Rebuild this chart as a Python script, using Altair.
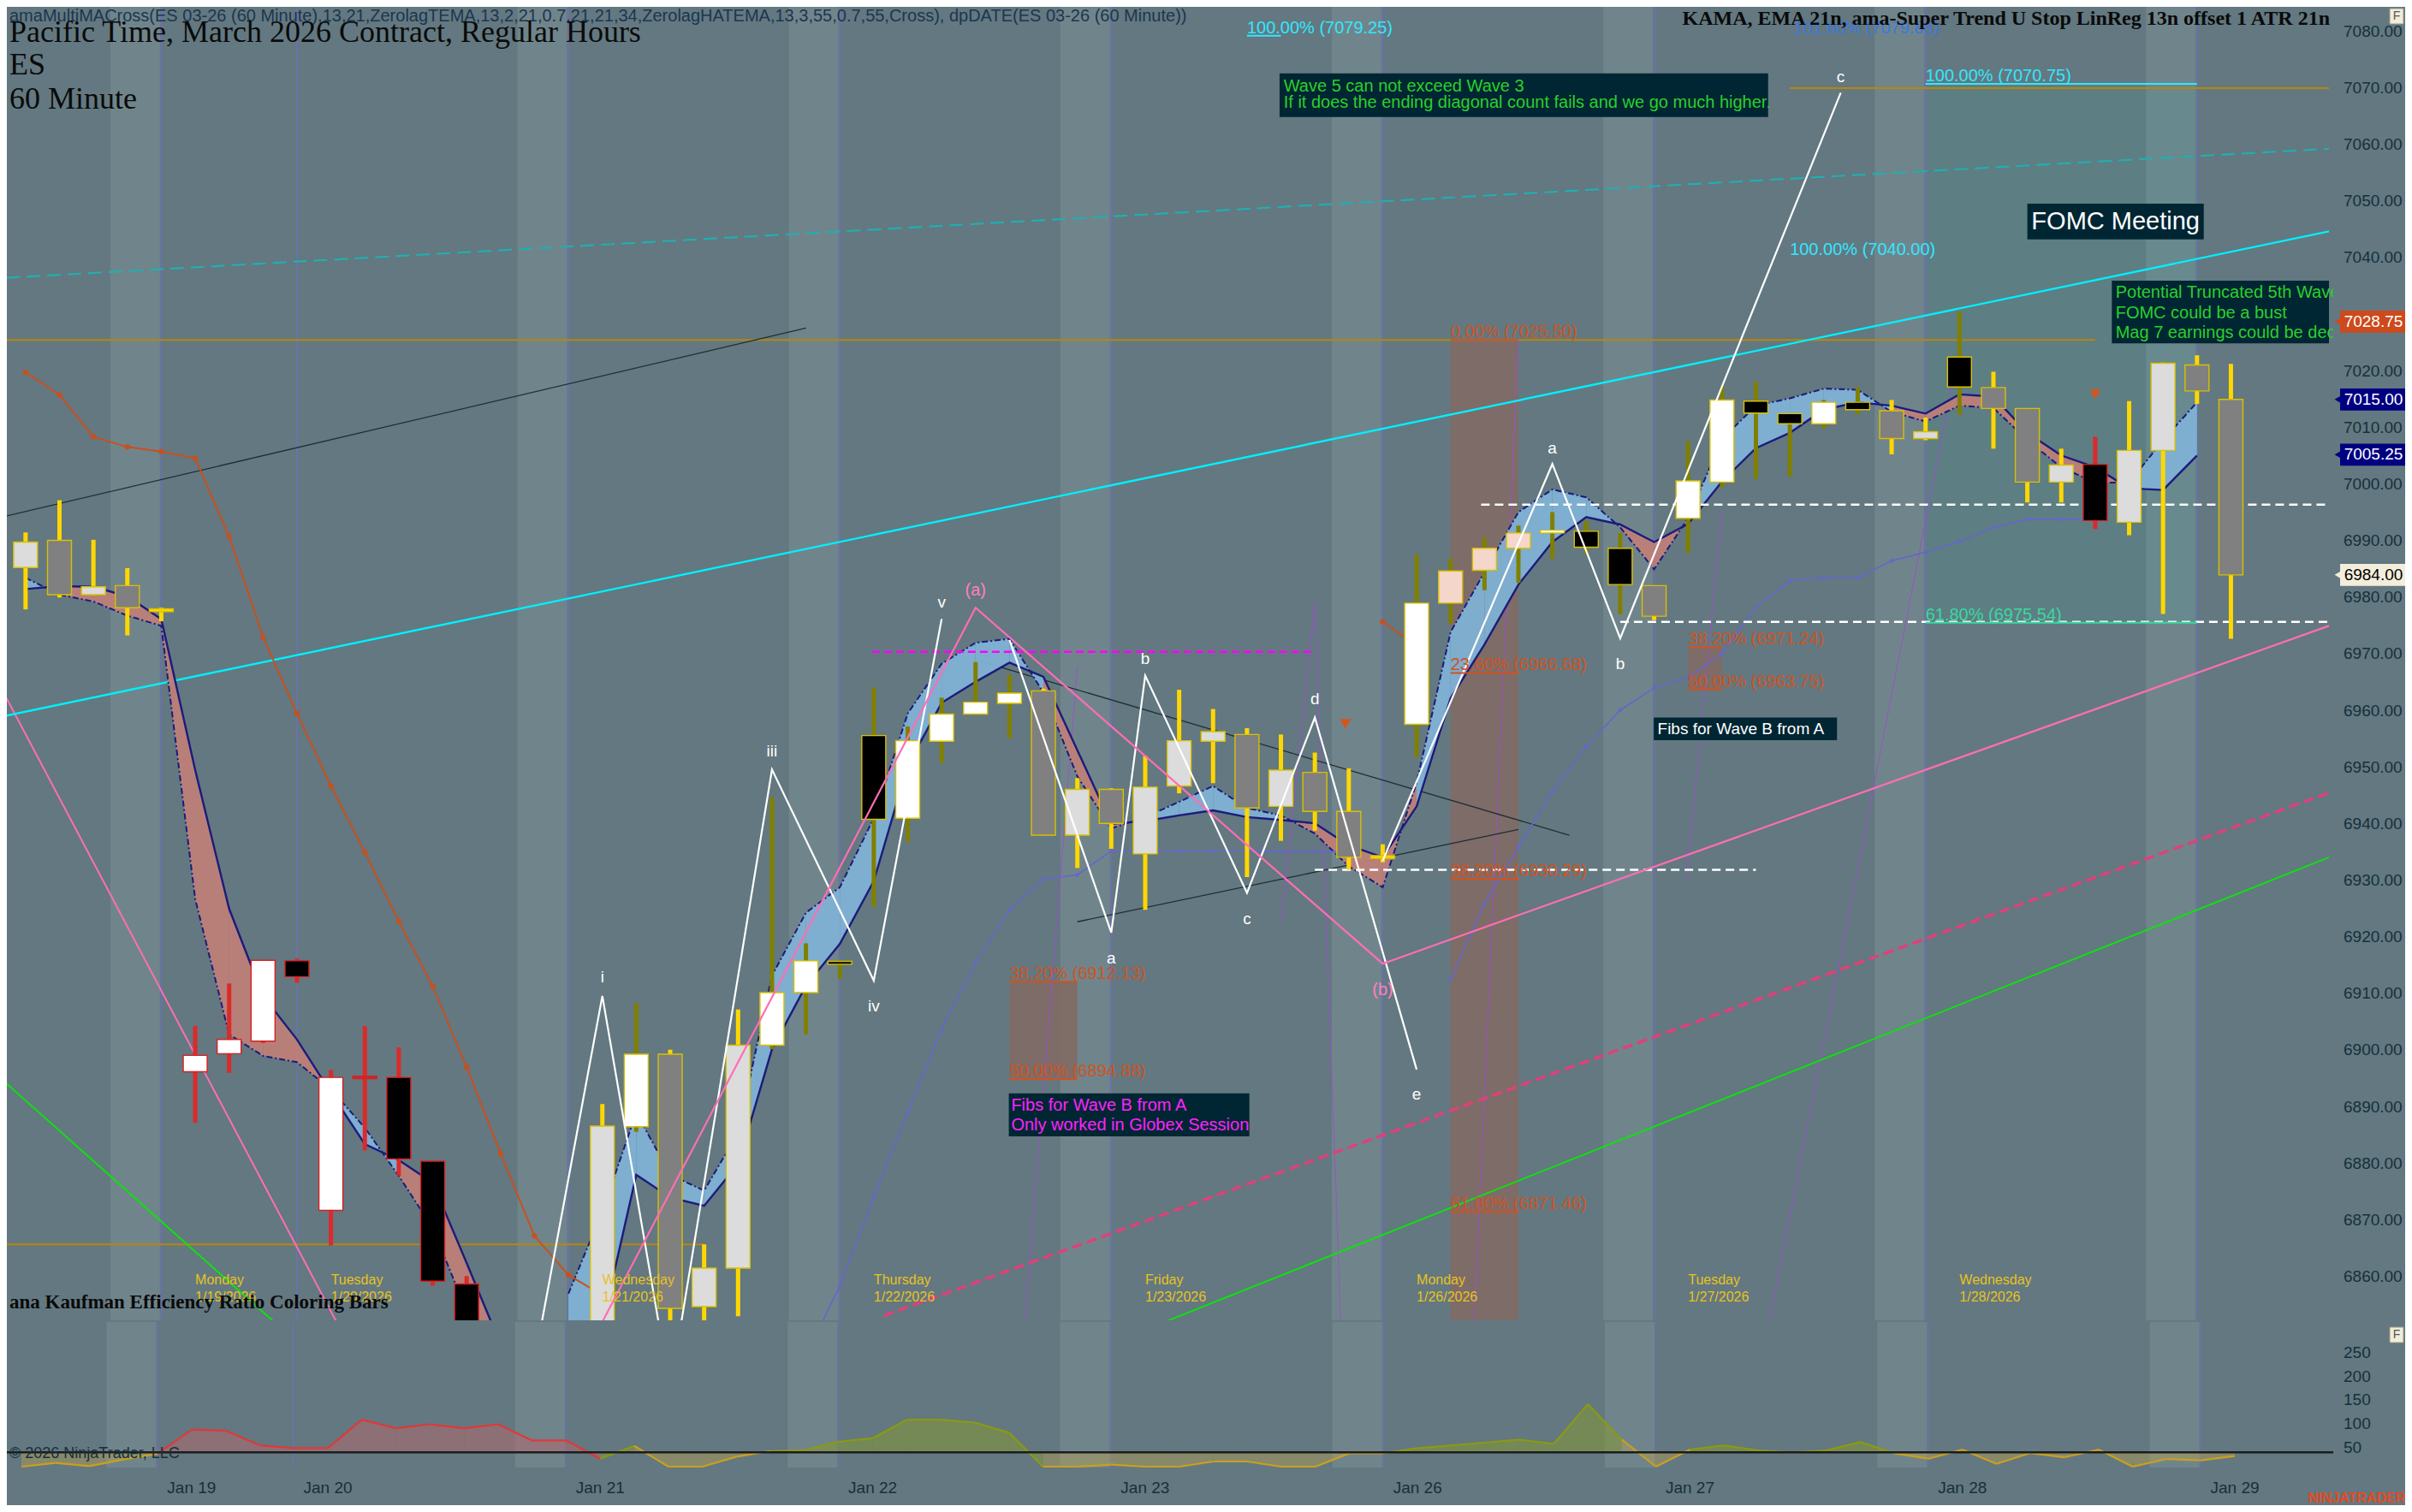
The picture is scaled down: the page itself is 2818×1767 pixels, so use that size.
import altair as alt
import pandas as pd

# ---------------------------------------------------------------
# Values  (x = 60-minute bar number, y = price)
# ---------------------------------------------------------------
bar_index = list(range(0, 14)) + list(range(17, 66))
bar_high = [6991.5, 6997.2, 6990.2, 6985.2, 6978.2, 6904.3, 6911.8, 6915.9, 6916.2, 6896.5, 6904.3, 6900.5, 6880.4, 6860.1,
            6890.5, 6908.3, 6900.1, 6865.7, 6907.2, 6944.7, 6918.9, 6915.9, 6964.1, 6957.2, 6962.3, 6968.6, 6966.4,
            6963.9, 6948.1, 6946.3, 6952.0, 6963.7, 6960.3, 6956.9, 6955.8, 6952.6, 6949.8, 6936.4,
            6987.6, 6986.9, 6990.6, 6992.7, 6995.1, 6993.5, 6991.4, 6982.1,
            7007.6, 7017.4, 7018.1, 7012.5, 7014.9, 7017.1, 7014.9, 7011.8,
            7030.5, 7019.9, 7013.4, 7006.3, 7008.4, 7014.7, 7021.5, 7022.8, 7021.3]
bar_low = [6977.9, 6980.0, 6980.4, 6973.3, 6975.8, 6887.2, 6896.0, 6901.3, 6911.9, 6865.5, 6882.3, 6877.8, 6858.4, 6840.0,
           6845.0, 6885.6, 6850.0, 6851.0, 6853.0, 6900.2, 6902.8, 6912.7, 6925.3, 6936.8, 6950.7, 6959.5, 6955.1,
           6938.0, 6932.2, 6935.6, 6924.8, 6945.4, 6947.2, 6930.6, 6937.0, 6938.8, 6931.9, 6933.2,
           6951.8, 6975.4, 6981.3, 6982.6, 6986.8, 6987.6, 6977.0, 6976.0,
           6987.9, 6999.5, 7001.0, 7001.4, 7009.9, 7012.4, 7005.3, 7007.8,
           7012.3, 7006.3, 6996.8, 6996.8, 6992.1, 6991.0, 6977.1, 7014.2, 6972.7]
body_top = [6989.8, 6990.1, 6981.9, 6982.1, 6978.0, 6899.1, 6901.9, 6915.9, 6915.8, 6895.2, 6895.4, 6895.2, 6880.4, 6858.7,
            6886.6, 6899.3, 6899.3, 6861.5, 6900.9, 6910.2, 6915.8, 6915.7, 6955.6, 6954.7, 6959.4, 6961.5, 6963.1,
            6963.5, 6946.1, 6946.1, 6946.5, 6954.7, 6956.3, 6955.8, 6949.5, 6949.1, 6942.2, 6934.4,
            6979.0, 6984.7, 6988.7, 6991.4, 6991.9, 6991.7, 6988.7, 6982.1,
            7000.6, 7014.9, 7014.7, 7012.5, 7014.5, 7014.5, 7013.0, 7009.3,
            7022.5, 7017.1, 7013.4, 7003.4, 7003.5, 7006.0, 7021.4, 7021.1, 7015.0]
body_bottom = [6985.3, 6980.5, 6980.5, 6978.2, 6977.5, 6896.2, 6899.4, 6901.6, 6913.0, 6871.7, 6895.0, 6880.8, 6859.2, 6842.0,
               6848.0, 6886.5, 6854.4, 6854.7, 6861.5, 6900.9, 6910.2, 6915.2, 6940.8, 6941.0, 6954.6, 6959.4, 6961.3,
               6938.0, 6938.0, 6940.1, 6934.7, 6946.7, 6954.6, 6942.8, 6943.1, 6942.2, 6934.1, 6933.9,
               6957.6, 6979.0, 6984.8, 6988.7, 6991.4, 6988.9, 6982.3, 6976.7,
               6994.0, 7000.4, 7012.6, 7010.7, 7010.7, 7013.2, 7008.1, 7008.1,
               7017.2, 7013.4, 7000.4, 7000.4, 6993.6, 6993.3, 7006.0, 7016.5, 6984.0]
# efficiency-ratio colouring classes of each bar
body_class = list("LGLGYWWWKWRKKK" + "LWGLLWWKKWWWWGLGLLLGLGGYWPPPWKKGWWKKWKGLKGGLKLLGG")
wick_class = list("yyyyy" + "r" * 9 + "yoyyy" + "o" * 8 + "y" * 11 + "o" * 7 + "y" + "o" * 6 + "yyo" + "yyy" + "r" + "yyyy")

# MA-cross ribbon (fast = dashed, slow = solid)
ribbon_bars = list(range(0, 15)) + list(range(16, 65))
rib_fast = [6983.5, 6980.5, 6979.3, 6976.8, 6975.0, 6926.7, 6902.8, 6899.0, 6897.9, 6893.1, 6886.3, 6877.8, 6868.6, 6853.9, 6840.0,
            6857.0, 6871.5, 6889.0, 6878.0, 6875.2, 6885.4, 6913.2, 6924.3, 6928.8, 6941.0, 6959.5, 6968.3, 6972.0, 6972.7,
            6963.2, 6948.4, 6939.2, 6941.2, 6943.9, 6946.7, 6942.8, 6941.5, 6938.3, 6932.5, 6928.8,
            6947.3, 6973.9, 6984.5, 6995.1, 6999.1, 6997.7, 6992.4, 6985.0, 6994.0, 7008.0, 7013.9, 7015.2,
            7016.9, 7016.7, 7012.8, 7011.1, 7013.9, 7013.5, 7007.8, 7003.0, 7000.3, 7000.3, 7007.8, 7014.5]
rib_slow = [6981.5, 6982.0, 6981.9, 6980.2, 6976.2, 6949.5, 6925.0, 6909.6, 6901.9, 6892.5, 6883.4, 6880.6, 6876.6, 6862.4, 6848.0,
            6840.0, 6851.6, 6878.0, 6874.0, 6872.5, 6879.9, 6900.2, 6911.4, 6918.8, 6929.9, 6950.3, 6961.4, 6965.1, 6968.5,
            6966.0, 6953.0, 6940.0, 6940.5, 6941.5, 6942.4, 6941.2, 6940.7, 6940.1, 6936.2, 6934.1,
            6943.1, 6962.2, 6971.7, 6982.3, 6989.8, 6994.2, 6992.9, 6989.8, 6993.0, 7000.5, 7006.4, 7009.1,
            7013.2, 7014.5, 7013.9, 7012.5, 7015.9, 7015.5, 7009.1, 7005.1, 7003.0, 6999.3, 6999.0, 7005.1]

# KAMA (orange dotted) and EMA 21 (blue dotted)
kama_bars = list(range(0, 18)) + [40, 41]
kama_vals = [7019.8, 7015.8, 7008.4, 7006.6, 7005.8, 7004.6, 6990.8, 6973.0, 6959.5, 6946.7, 6935.0, 6922.8,
             6911.3, 6897.0, 6881.8, 6867.2, 6860.3, 6856.7, 6975.7, 6971.5]
ema_bars = list(range(23, 40)) + list(range(42, 62))
ema_vals = [6846.0, 6858.4, 6874.1, 6889.1, 6903.7, 6915.5, 6924.8, 6930.2, 6931.0, 6935.2, 6935.2, 6935.2, 6935.2,
            6935.2, 6935.1, 6935.1, 6935.1,
            6912.5, 6925.9, 6935.9, 6945.7, 6953.7, 6960.1, 6964.0, 6965.9, 6970.1, 6978.3, 6983.0, 6983.5, 6983.5,
            6986.5, 6988.0, 6989.9, 6992.4, 6993.8, 6993.8, 6993.8]

# Kaufman efficiency ratio panel (one value per bar 0..65)
er_values = [9.8, 17.6, 11.0, 24.8, 37.0, 87.8, 86.0, 54.8, 48.8, 48.8, 108.8, 90.8, 99.2, 90.8, 99.2, 65.0, 65.0, 26.6, 53.6, 9.8,
             9.8, 30.8, 42.8, 44.6, 62.6, 69.8, 108.8, 108.8, 102.8, 81.8, 9.8, 9.8, 14.0, 9.8, 9.8, 20.6, 20.6, 9.8, 9.8, 38.0,
             38.0, 48.8, 54.8, 60.8, 66.8, 57.8, 141.8, 66.8, 9.8, 45.8, 54.8, 44.0, 39.8, 44.0, 62.0, 38.0, 26.6, 45.8, 15.8, 38.6,
             29.6, 45.8, 9.8, 26.0, 23.0, 32.0]
er_down_bars = list(range(4, 17))
er_base = 40

# sessions and dates
session_end_bars = [4, 16, 24, 32, 40, 48, 56, 64]
session_line_bars = [4, 8, 16, 24, 32, 40, 48, 56, 64]
day_ticks = [5, 9, 17, 25, 33, 41, 49, 57, 65]
day_tick_labels = ["Jan 19", "Jan 20", "Jan 21", "Jan 22", "Jan 23", "Jan 26", "Jan 27", "Jan 28", "Jan 29"]
day_names = ["Monday", "Tuesday", "Wednesday", "Thursday", "Friday", "Monday", "Tuesday", "Wednesday"]
day_dates = ["1/19/2026", "1/20/2026", "1/21/2026", "1/22/2026", "1/23/2026", "1/26/2026", "1/27/2026", "1/28/2026"]
price_ticks = list(range(6860, 7081, 10))
er_ticks = [50, 100, 150, 200, 250]

# drawn objects (bar number, price)
trend_cyan = [[(-0.577, 6959.1), (67.89, 7044.7)]]
trend_cyan_dash = [[(-0.577, 7036.5), (67.89, 7059.3)]]
trend_black = [[(-0.577, 6994.4), (23.0, 7027.6)], [(28.0, 6969.0), (45.5, 6938.0)], [(31.0, 6922.7), (44.0, 6939.0)]]
trend_pink = [[(-0.577, 6962.4), (9.2, 6851.6)]]
trend_green = [[(-0.577, 6894.2), (7.7, 6850.0)], [(33.7, 6852.3), (67.89, 6934.1)]]
trend_pink_dash = [[(25.3, 6853.1), (67.89, 6945.5)]]
level_orange = [[(-0.577, 7025.5), (61.0, 7025.5)], [(52.0, 7070.0), (67.89, 7070.0)], [(-0.577, 6865.7), (20.0, 6865.7)]]
purple_lines = [[(31.0, 6967.8), (29.45, 6852.3)], [(37.0, 6922.4), (38.0, 6979.2), (38.76, 6852.3)],
                [(44.0, 7025.8), (42.7, 6852.3)], [(50.0, 6995.5), (48.95, 6930.0)], [(57.0, 7024.3), (51.4, 6852.3)]]
white_dash = [[(42.9, 6996.4), (67.89, 6996.4)], [(47.0, 6975.7), (67.89, 6975.7)], [(38.0, 6931.9), (51.0, 6931.9)]]
magenta_dash = [[(24.95, 6970.4), (38.0, 6970.4)]]
wave_white = [[(15.0, 6845.0), (17.0, 6909.6), (19.0, 6840.0), (22.0, 6949.6), (25.0, 6912.3), (27.0, 6976.2)],
              [(29.0, 6972.5), (32.0, 6920.8), (33.0, 6966.2), (36.0, 6927.8), (38.0, 6958.8), (41.0, 6896.6)],
              [(40.0, 6933.5), (45.0, 7003.6), (47.0, 6972.8), (53.5, 7069.2)]]
wave_pink = [[(17.0, 6852.0), (28.0, 6978.2), (40.0, 6915.3), (67.89, 6975.0)]]

wave_labels_white = [("i", 17, 6912.9), ("iii", 22, 6952.8), ("iv", 25, 6907.7), ("v", 27, 6979.1),
                     ("a", 32, 6916.2), ("b", 33, 6969.2), ("c", 36, 6923.2), ("d", 38, 6962.0), ("e", 41, 6892.2),
                     ("a", 45, 7006.4), ("b", 47, 6968.2), ("c", 53.5, 7071.9)]
wave_labels_pink = [("(a)", 28, 6981.2), ("(b)", 40, 6910.7)]

fib_boxes = [(42, 44, 6852.28, 7025.5), (29, 31, 6894.88, 6912.13), (49, 50, 6963.75, 6971.24)]
fib_zone_teal = [(56, 64, 6975.54, 7070.75)]
fib_orange = [("0.00% (7025.50)", 42, 44, 7025.5), ("23.60% (6966.68)", 42, 44, 6966.68),
              ("38.20% (6930.29)", 42, 44, 6930.29), ("61.80% (6871.46)", 42, 44, 6871.46),
              ("38.20% (6912.13)", 29, 31, 6912.13), ("50.00% (6894.88)", 29, 31, 6894.88),
              ("38.20% (6971.24)", 49, 50, 6971.24), ("50.00% (6963.75)", 49, 50, 6963.75)]
fib_cyan = [("100.00% (7079.25)", 36, 37, 7079.25), ("100.00% (7070.75)", 56, 64, 7070.75), ("100.00% (7040.00)", 52, 52, 7040.0)]
fib_mint = [("61.80% (6975.54)", 56, 64, 6975.54)]
fib_blue = [("101.60% (7079.85)", 52.1, 52.1, 7079.2)]

signal_arrows = [(38.9, 6957.7), (61.0, 7015.9)]

note_boxes = [(36.96, 51.36, 7064.9, 7072.6), (59.0, 64.2, 7043.3, 7049.6),
              (61.49, 67.89, 7024.9, 7036.0), (28.98, 36.07, 6884.8, 6892.4),
              (47.99, 53.39, 6954.8, 6958.8)]
note_green = [("Wave 5 can not exceed Wave 3", 37.08, 7070.3),
              ("If it does the ending diagonal count fails and we go much higher.", 37.08, 7067.4)]
note_green_right = [("Potential Truncated 5th Wave", 61.6, 7033.8), ("FOMC could be a bust", 61.6, 7030.3),
                    ("Mag 7 earnings could be decisive", 61.6, 7026.8)]
note_magenta = [("Fibs for Wave B  from A", 29.05, 6890.2), ("Only worked in Globex Session", 29.05, 6886.8)]
note_white = [("Fibs for Wave B  from A", 48.1, 6956.8)]
note_fomc = [("FOMC Meeting", 61.6, 7046.4)]

flag_price = [7028.75, 7015.00, 7005.25, 6984.00]

# ---------------------------------------------------------------
# style / layout
# ---------------------------------------------------------------
W, H_TOP, H_BOT = 2724, 1542, 170
X_DOMAIN = [-0.577, 67.89]
P_DOMAIN = [6852.28, 7085.43]
E_DOMAIN = [8, 315]
BG, BAND = "#637880", "#70858b"
AXIS_TXT = "#15303d"
SANS, SERIF = "Liberation Sans", "Liberation Serif"
FIB = "#cf5322"

xs = alt.Scale(domain=X_DOMAIN, nice=False, zero=False)
ys = alt.Scale(domain=P_DOMAIN, nice=False, zero=False)
es = alt.Scale(domain=E_DOMAIN, nice=False, zero=False)


def X(f):
    return alt.X(f"{f}:Q", scale=xs, axis=None)


def Y(f, scale=ys):
    return alt.Y(f"{f}:Q", scale=scale, axis=None)


def poly_df(polys):
    rows = []
    for g, pts in enumerate(polys):
        for o, (x, y) in enumerate(pts):
            rows.append({"g": g, "o": o, "x": x, "y": y})
    return pd.DataFrame(rows)


def runs(bx, by):
    out, cur = [], []
    for x, y in zip(bx, by):
        if cur and x - cur[-1][0] > 1:
            out.append(cur)
            cur = []
        cur.append((x, y))
    if cur:
        out.append(cur)
    return out


def lines(polys, color, width, dash=None, opacity=1.0, point_size=None, scale=ys):
    kw = dict(color=color, strokeWidth=width, opacity=opacity, clip=True)
    if dash:
        kw["strokeDash"] = dash
    if point_size:
        kw["point"] = alt.OverlayMarkDef(filled=True, size=point_size, color=color, clip=True)
    return alt.Chart(poly_df(polys)).mark_line(**kw).encode(
        x=X("x"), y=Y("y", scale), detail="g:N", order="o:Q")


def texts(items, color, size, font=SANS, align="left", baseline="middle", weight="normal", clip=False, dy=0):
    df = pd.DataFrame(items, columns=["t", "x", "y"])
    return alt.Chart(df).mark_text(color=color, fontSize=size, font=font, align=align, baseline=baseline,
                                   fontWeight=weight, clip=clip, dy=dy).encode(x=X("x"), y=Y("y"), text="t:N")


def screen_text(t, px, py, color, size, font, align="left", weight="normal"):
    return alt.Chart(pd.DataFrame({"t": [t]})).mark_text(
        color=color, fontSize=size, font=font, align=align, baseline="middle", fontWeight=weight
    ).encode(x=alt.value(px), y=alt.value(py), text="t:N")


def button(px, py):
    return [alt.Chart(pd.DataFrame({"t": ["F"]})).mark_rect(color="#f2ecd9", stroke="#9a9a8a", strokeWidth=1).encode(
                x=alt.value(px), x2=alt.value(px + 16), y=alt.value(py), y2=alt.value(py + 18)),
            screen_text("F", px + 8, py + 9, "#555555", 14, SANS, align="center")]


def fib_layers(items, color, size=20):
    rule_df = pd.DataFrame([(x0, x1, p) for (_, x0, x1, p) in items if x1 > x0], columns=["x0", "x1", "p"])
    out = []
    if len(rule_df):
        out.append(alt.Chart(rule_df).mark_rule(color=color, strokeWidth=2, clip=True).encode(
            x=X("x0"), x2="x1:Q", y=Y("p")))
    out.append(texts([(t, x0, p) for (t, x0, x1, p) in items], color, size, baseline="alphabetic", dy=-3, clip=True))
    return out


def value_labels(values, scale, fmt):
    df = pd.DataFrame({"v": values, "t": [fmt.format(v) for v in values]})
    return alt.Chart(df).mark_text(color=AXIS_TXT, fontSize=19, font=SANS, align="left", baseline="middle").encode(
        x=alt.value(W + 12), y=Y("v", scale), text="t:N")


bands = pd.DataFrame({"x0": [b - 1.5 for b in session_end_bars], "x1": [b - 0.04 for b in session_end_bars]})
bands["p0"], bands["p1"] = P_DOMAIN
bands["e0"], bands["e1"] = E_DOMAIN
sess = pd.DataFrame({"x": session_line_bars})
sess["p0"], sess["p1"] = P_DOMAIN
sess["e0"], sess["e1"] = E_DOMAIN

# ---------------------------------------------------------------
# price panel
# ---------------------------------------------------------------
T = []
T.append(alt.Chart(bands).mark_rect(color=BAND).encode(x=X("x0"), x2="x1:Q", y=Y("p0"), y2="p1:Q"))
fb = pd.DataFrame(fib_boxes, columns=["x0", "x1", "lo", "hi"])
T.append(alt.Chart(fb).mark_rect(color="#7f6b66", opacity=0.95, clip=True).encode(
    x=X("x0"), x2="x1:Q", y=Y("lo"), y2="hi:Q"))
ft = pd.DataFrame(fib_zone_teal, columns=["x0", "x1", "lo", "hi"])
T.append(alt.Chart(ft).mark_rect(color="#2fb0a0", opacity=0.12, clip=True).encode(
    x=X("x0"), x2="x1:Q", y=Y("lo"), y2="hi:Q"))
T.append(alt.Chart(sess).mark_rule(color="#6d70b8", strokeWidth=1.6, opacity=0.9).encode(
    x=X("x"), y=Y("p0"), y2="p1:Q"))
T.append(lines(purple_lines, "#9a52c8", 1.3, opacity=0.75))
T.append(lines(level_orange, "#b8860b", 2))
T.append(lines(trend_cyan_dash, "#22aeb0", 2.2, dash=[16, 8]))
T.append(lines(trend_black, "#1f2f33", 1.3))
T.append(lines(trend_pink, "#ff6eb4", 2))
T.append(lines(trend_green, "#10e010", 2))
T.append(lines(trend_pink_dash, "#e0407a", 3.5, dash=[12, 6]))
T.append(lines(trend_cyan, "#00f0ff", 2.4))

# ribbon
rib_rows = []
for k in range(len(ribbon_bars) - 1):
    if ribbon_bars[k + 1] - ribbon_bars[k] != 1:
        continue
    cls = "up" if rib_fast[k] + rib_fast[k + 1] >= rib_slow[k] + rib_slow[k + 1] else "dn"
    for j in (k, k + 1):
        rib_rows.append({"seg": k, "x": ribbon_bars[j], "a": rib_fast[j], "b": rib_slow[j], "cls": cls})
rib_df = pd.DataFrame(rib_rows)
for cls, col in (("up", "#7fb1d4"), ("dn", "#bd7f78")):
    T.append(alt.Chart(rib_df).transform_filter(f"datum.cls == '{cls}'").mark_area(
        color=col, opacity=0.95, clip=True).encode(x=X("x"), y=Y("a"), y2="b:Q", detail="seg:N"))
T.append(lines(runs(ribbon_bars, rib_slow), "#1b1b7c", 2.4))
T.append(lines(runs(ribbon_bars, rib_fast), "#1b1b7c", 2, dash=[7, 3, 2, 3]))

T.append(lines(runs(ema_bars, ema_vals), "#6668c4", 1.8, point_size=22))
T.append(lines(runs(kama_bars, kama_vals), "#c8501e", 2, point_size=40))
T.append(lines(white_dash, "#ffffff", 2.5, dash=[10, 6]))
T.append(lines(magenta_dash, "#ff00ff", 2.5, dash=[9, 5]))

# candles
cdf = pd.DataFrame({"x": bar_index, "hi": bar_high, "lo": bar_low, "top": body_top, "bot": body_bottom,
                    "body": body_class, "wick": wick_class})
for cls, col in (("y", "#ffd700"), ("o", "#808000"), ("r", "#dc2a2a")):
    T.append(alt.Chart(cdf).transform_filter(f"datum.wick == '{cls}'").mark_rule(
        color=col, strokeWidth=5, clip=True).encode(x=X("x"), y=Y("lo"), y2="hi:Q"))
body_fill = {"W": "#ffffff", "L": "#dcdcdc", "G": "#808080", "K": "#000000", "P": "#f4d6ca", "Y": "#ffd700",
             "R": "#b83030"}
for cls, col in body_fill.items():
    T.append(alt.Chart(cdf).transform_filter(f"datum.body == '{cls}'").mark_bar(
        size=28, fill=col, strokeWidth=1.4, clip=True).encode(
        x=X("x"), y=Y("bot"), y2="top:Q",
        stroke=alt.condition("datum.wick == 'r'", alt.value("#d82020"), alt.value("#d8c000"))))

T.append(lines(wave_white, "#ffffff", 2.2))
T.append(lines(wave_pink, "#ff6eb4", 2.2))

T += fib_layers(fib_blue, "#3a78e0")
T += fib_layers(fib_orange, FIB)
T += fib_layers(fib_cyan, "#33e6ff")
T += fib_layers(fib_mint, "#3ad8a0")

sig = pd.DataFrame(signal_arrows, columns=["x", "y"])
T.append(alt.Chart(sig).mark_point(shape="triangle-down", filled=True, size=170, color="#d4561c", opacity=1).encode(
    x=X("x"), y=Y("y")))

nb = pd.DataFrame(note_boxes, columns=["x0", "x1", "lo", "hi"])
T.append(alt.Chart(nb).mark_rect(color="#002633", clip=True).encode(x=X("x0"), x2="x1:Q", y=Y("lo"), y2="hi:Q"))
T.append(texts(note_green, "#2ccf2c", 20))
T.append(texts(note_green_right, "#2ccf2c", 20, clip=True))
T.append(texts(note_magenta, "#ff22ff", 20))
T.append(texts(note_white, "#ffffff", 19))
T.append(texts(note_fomc, "#ffffff", 29, align="center"))

T.append(texts(wave_labels_white, "#ffffff", 19, align="center"))
T.append(texts(wave_labels_pink, "#ff80c0", 20, align="center"))

day_items = [(n, b, 6859.4) for n, b in zip(day_names, day_ticks)] + \
            [(d, b, 6856.4) for d, b in zip(day_dates, day_ticks)]
T.append(texts(day_items, "#e8c21e", 16))

T.append(screen_text("amaMultiMACross(ES 03-26 (60 Minute),13,21,ZerolagTEMA,13,2,21,0.7,21,21,34,ZerolagHATEMA,"
                     "13,3,55,0.7,55,Cross), dpDATE(ES 03-26 (60 Minute))", 9, 18, "#1c3650", 20, SANS))
T.append(screen_text("Pacific Time, March 2026 Contract, Regular Hours", 9, 37, "#0a0a0a", 36, SERIF))
T.append(screen_text("ES", 9, 75, "#0a0a0a", 36, SERIF))
T.append(screen_text("60 Minute", 9, 115, "#0a0a0a", 36, SERIF))
T.append(screen_text("KAMA, EMA 21n, ama-Super Trend U Stop LinReg  13n offset  1 ATR 21n", W - 4, 21,
                     "#0a0a0a", 24, SERIF, align="right", weight="bold"))
T.append(screen_text("ana Kaufman Efficiency Ratio Coloring Bars", 9, 1521, "#0a0a0a", 23, SERIF, weight="bold"))
T += button(W + 66, 9)

# right-hand price scale (labels hidden behind the price flags are left out, as in the reference)
T.append(value_labels([p for p in price_ticks if all(abs(p - f) > 2.5 for f in flag_price)], ys, "{:.2f}"))

flag_fill = ["#cc4a1c", "#000080", "#000080", "#f3eddb"]
flag_txt = ["#ffffff", "#ffffff", "#ffffff", "#000000"]
for p, fc, tc in zip(flag_price, flag_fill, flag_txt):
    fdf = pd.DataFrame({"p": [p], "t": [f"{p:.2f}"]})
    T.append(alt.Chart(fdf).transform_calculate(lo="datum.p - 1.95", hi="datum.p + 1.95").mark_rect(
        color=fc).encode(x=alt.value(W + 8), x2=alt.value(W + 84), y=Y("lo"), y2="hi:Q"))
    T.append(alt.Chart(fdf).mark_point(shape="triangle-left", filled=True, size=160, color=fc, opacity=1).encode(
        x=alt.value(W + 7), y=Y("p")))
    T.append(alt.Chart(fdf).mark_text(color=tc, fontSize=19, font=SANS, align="center", baseline="middle").encode(
        x=alt.value(W + 47), y=Y("p"), text="t:N"))

top = alt.layer(*T).properties(width=W, height=H_TOP)

# ---------------------------------------------------------------
# efficiency-ratio panel
# ---------------------------------------------------------------
B = []
B.append(alt.Chart(bands).mark_rect(color=BAND).encode(x=X("x0"), x2="x1:Q", y=Y("e0", es), y2="e1:Q"))
B.append(alt.Chart(sess).mark_rule(color="#6d70b8", strokeWidth=1.6, opacity=0.7).encode(
    x=X("x"), y=Y("e0", es), y2="e1:Q"))
er_rows = []
for s in range(len(er_values) - 1):
    v0, v1 = er_values[s], er_values[s + 1]
    if s in er_down_bars:
        cls = "red"
    elif (v0 + v1) / 2 >= er_base:
        cls = "up"
    else:
        cls = "dn"
    for j in (s, s + 1):
        er_rows.append({"seg": s, "x": j, "v": er_values[j], "base": er_base, "cls": cls})
er_df = pd.DataFrame(er_rows)
for cls, fill, op, stroke in (("red", "#b8666c", 0.5, "#e03838"), ("up", "#889a2c", 0.5, "#8a9a12"),
                              ("dn", "#c6a648", 0.38, "#c9a020")):
    B.append(alt.Chart(er_df).transform_filter(f"datum.cls == '{cls}'").mark_area(
        color=fill, opacity=op, clip=True).encode(x=X("x"), y=Y("v", es), y2="base:Q", detail="seg:N"))
    B.append(alt.Chart(er_df).transform_filter(f"datum.cls == '{cls}'").mark_line(
        color=stroke, strokeWidth=2.2, clip=True).encode(x=X("x"), y=Y("v", es), detail="seg:N"))
base_df = pd.DataFrame({"x0": [X_DOMAIN[0]], "x1": [X_DOMAIN[1]], "v": [er_base]})
B.append(alt.Chart(base_df).mark_rule(color="#1c1c1c", strokeWidth=2.5).encode(x=X("x0"), x2="x1:Q", y=Y("v", es)))
B.append(screen_text("\u00a9 2026 NinjaTrader, LLC", 9, 154, "#17303c", 18, SANS))
B.append(value_labels(er_ticks, es, "{}"))
dl = pd.DataFrame({"x": day_ticks, "t": day_tick_labels})
B.append(alt.Chart(dl).mark_text(color=AXIS_TXT, fontSize=19, font=SANS, align="center", baseline="middle").encode(
    x=X("x"), y=alt.value(H_BOT + 24), text="t:N"))
B.append(screen_text("NINJATRADER", W + 84, H_BOT + 36, "#e8481c", 16, SANS, align="right", weight="bold"))
B += button(W + 66, 6)

bot = alt.layer(*B).properties(width=W, height=H_BOT)

chart = alt.vconcat(top, bot, spacing=0, background=BG,
                    padding={"left": -8, "top": -8, "right": 0, "bottom": 0}).configure_view(stroke=None)
chart.save("out.html", embed_options={"renderer": "svg", "actions": False})
